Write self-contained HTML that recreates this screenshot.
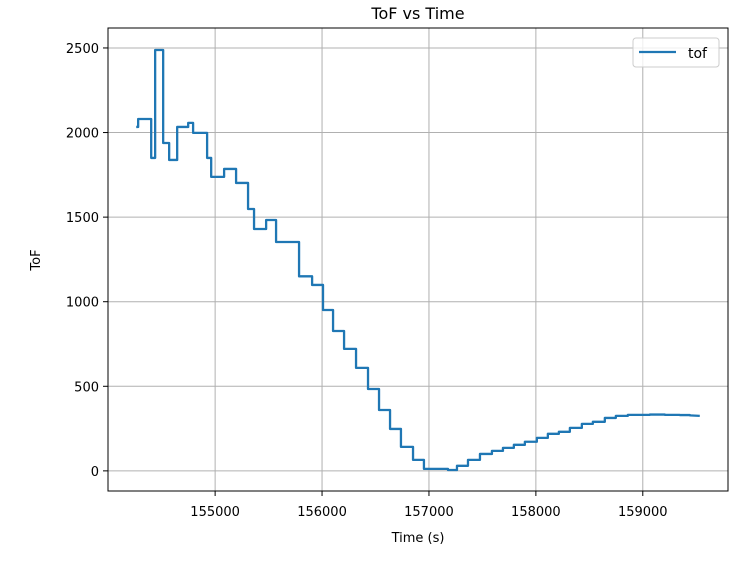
<!DOCTYPE html>
<html><head><meta charset="utf-8"><style>
body{margin:0;background:#fff;}
svg text{font-family:"DejaVu Sans","Liberation Sans",sans-serif;fill:#000;}
</style></head><body>
<svg id="chart" width="751" height="556" viewBox="0 0 751 556">
<g id="grid"></g>
<g id="ticks"></g>
<path id="line" fill="none" stroke="#1f77b4" stroke-width="2.3" stroke-linejoin="round"/>
<rect x="108" y="28" width="620" height="463" fill="none" stroke="#000" stroke-width="1"/>
<text x="418" y="19" font-size="16" text-anchor="middle">ToF vs Time</text>
<text x="418" y="542" font-size="13" text-anchor="middle">Time (s)</text>
<text x="40" y="260" font-size="13" text-anchor="middle" transform="rotate(-90 40 260)">ToF</text>
<g>
<rect x="633" y="38" width="86" height="29" rx="3" fill="#fff" fill-opacity="0.8" stroke="#ccc"/>
<line x1="639" y1="52" x2="676" y2="52" stroke="#1f77b4" stroke-width="2.3"/>
<text x="688" y="58" font-size="14">tof</text>
</g>
</svg>
<script>
const times=[154262,154280,154402,154439,154514,154570,154645,154748,154794,154925,154963,155084,155196,155308,155364,155477,155570,155785,155907,156009,156103,156206,156318,156430,156533,156636,156738,156851,156953,157178,157262,157365,157477,157589,157692,157794,157897,158009,158112,158215,158318,158430,158533,158645,158748,158860,159066,159206,159346,159440];
const values=[2033,2080,1850,2488,1938,1838,2033,2057,1998,1850,1738,1785,1702,1548,1430,1483,1353,1150,1099,951,827,721,609,484,360,248,142,65,12,5,30,65,100,118,136,154,172,195,219,231,254,278,290,313,325,331,333,331,330,328];
const endTime=159533;
const endValue=325;
const xTicks=[155000,156000,157000,158000,159000];
const yTicks=[0,500,1000,1500,2000,2500];
const X0=153998,X1=159797,Y0=-119,Y1=2618;
const L=108,R=728,T=28,B=491;
function sx(t){return L+(t-X0)/(X1-X0)*(R-L);}
function sy(v){return B-(v-Y0)/(Y1-Y0)*(B-T);}
const ns="http://www.w3.org/2000/svg";
const grid=document.getElementById('grid'),ticks=document.getElementById('ticks');
function mk(tag,attrs,parent){const e=document.createElementNS(ns,tag);for(const k in attrs)e.setAttribute(k,attrs[k]);parent.appendChild(e);return e;}
xTicks.forEach(t=>{const x=sx(t);
const g=mk('line',{x1:x,x2:x,y1:T,y2:B,stroke:'#b0b0b0','stroke-width':1},grid);


mk('line',{x1:x,x2:x,y1:B,y2:B+5,stroke:'#000'},ticks);
const tx=mk('text',{x:x,y:B+25,'font-size':13,'text-anchor':'middle'},ticks);tx.textContent=t;

});
yTicks.forEach(v=>{const y=sy(v);
const g=mk('line',{x1:L,x2:R,y1:y,y2:y,stroke:'#b0b0b0','stroke-width':1},grid);


mk('line',{x1:L-5,x2:L,y1:y,y2:y,stroke:'#000'},ticks);
const tx=mk('text',{x:L-9,y:y+5,'font-size':13,'text-anchor':'end'},ticks);tx.textContent=v;

});
let d='M'+sx(times[0])+','+sy(values[0]);
for(let i=1;i<times.length;i++){d+=' L'+sx(times[i])+','+sy(values[i-1])+' L'+sx(times[i])+','+sy(values[i]);}
d+=' L'+sx(endTime)+','+sy(endValue);
document.getElementById('line').setAttribute('d',d);
</script>
</body></html>
